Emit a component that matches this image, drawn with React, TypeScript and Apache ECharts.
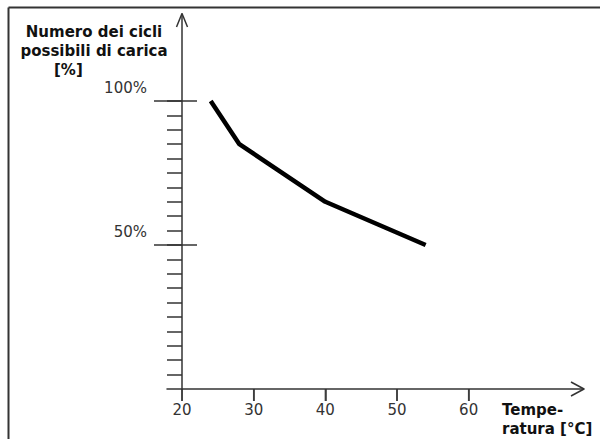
import React, { useEffect, useRef } from "react";
import * as echarts from "echarts";

// Data
const temperature = [24, 28, 40, 54];
const cycles = [100, 85, 65, 50];

// Axis ticks / labels
const xTickValues = [20, 30, 40, 50, 60];
const yMajorTicks = [50, 100];
const yMinorTicks = [5, 10, 15, 20, 25, 30, 35, 40, 45, 50, 55, 60, 65, 70, 75, 80, 85, 90, 95, 100];
const yLabelValues = [50, 100];

// Texts
const yTitleLines = ["Numero dei cicli", "possibili di carica"];
const yUnit = "[%]";
const xTitleLines = ["Tempe-", "ratura [°C]"];

const FONT = "DejaVu Sans, Verdana, sans-serif";
const AXIS_COLOR = "#333";

const ls = () => ({ color: AXIS_COLOR, width: 1.5 });

const seg = (x1: number, y1: number, x2: number, y2: number, w = 1.5) => ({
  type: "line",
  shape: { x1, y1, x2, y2 },
  style: { stroke: AXIS_COLOR, lineWidth: w },
  silent: true,
});

export default function App() {
  const ref = useRef<HTMLDivElement>(null);

  useEffect(() => {
    if (!ref.current) return;
    const chart = echarts.init(ref.current, undefined, { renderer: "svg" });

    const yCommon = () => ({
      type: "value" as const,
      position: "left" as const,
      min: 0,
      max: 130.2,
      offset: -15,
      splitLine: { show: false },
    });

    chart.setOption({
      animation: false,
      grid: { left: 167, right: 16, top: 14, bottom: 50, containLabel: false },
      xAxis: {
        type: "value",
        min: 17.9,
        max: 76.1,
        axisLine: { show: true, onZero: false, lineStyle: ls() },
        axisTick: { show: true, customValues: xTickValues, length: 12, lineStyle: ls() },
        axisLabel: {
          show: true,
          customValues: xTickValues,
          margin: 13,
          fontSize: 15,
          fontFamily: FONT,
          color: AXIS_COLOR,
        },
        splitLine: { show: false },
      },
      yAxis: [
        {
          ...yCommon(),
          axisLine: { show: true, onZero: false, lineStyle: ls() },
          axisTick: { show: true, customValues: yMinorTicks, length: 15, lineStyle: ls() },
          axisLabel: {
            show: true,
            customValues: yLabelValues,
            formatter: "{value}%",
            margin: 35,
            fontSize: 15,
            fontFamily: FONT,
            color: AXIS_COLOR,
            verticalAlign: "bottom",
            padding: [0, 0, 5, 0],
          },
        },
        {
          ...yCommon(),
          axisLine: { show: false, onZero: false },
          axisTick: { show: true, customValues: yMajorTicks, length: 28, lineStyle: ls() },
          axisLabel: { show: false },
        },
        {
          ...yCommon(),
          axisLine: { show: false, onZero: false },
          axisTick: { show: true, inside: true, customValues: yMajorTicks, length: 15, lineStyle: ls() },
          axisLabel: { show: false },
        },
      ],
      series: [
        {
          type: "line",
          yAxisIndex: 0,
          data: temperature.map((t, i) => [t, cycles[i]]),
          symbol: "none",
          lineStyle: { color: "#000", width: 4.5 },
        },
        {
          // x-axis tick marks below the axis line (same place as the axis ticks)
          type: "scatter",
          yAxisIndex: 0,
          data: xTickValues.map((v) => [v, 0]),
          symbol: "rect",
          symbolSize: [1.5, 12],
          symbolOffset: [0, 6],
          itemStyle: { color: AXIS_COLOR },
          clip: false,
        },
      ],
      graphic: [
        // frame (top and left edges)
        seg(8.5, 7.5, 8.5, 439, 2),
        seg(8.5, 7.5, 600, 7.5, 2),
        // y-axis arrow head
        seg(176.5, 27, 182, 13.5),
        seg(182, 13.5, 187.5, 27),
        // x-axis arrow head
        seg(571, 382, 584, 389),
        seg(584, 389, 571, 396),
        {
          type: "text",
          x: 94,
          y: 22,
          style: {
            text: yTitleLines.join("\n"),
            font: `bold 15px ${FONT}`,
            fill: "#111",
            textAlign: "center",
            textVerticalAlign: "top",
            lineHeight: 19,
          },
        },
        {
          type: "text",
          x: 54,
          y: 60,
          style: {
            text: yUnit,
            font: `bold 15px ${FONT}`,
            fill: "#111",
            textAlign: "left",
            textVerticalAlign: "top",
            lineHeight: 19,
          },
        },
        {
          type: "text",
          x: 502,
          y: 401,
          style: {
            text: xTitleLines.join("\n"),
            font: `bold 15px ${FONT}`,
            fill: "#111",
            textAlign: "left",
            textVerticalAlign: "top",
            lineHeight: 18.5,
          },
        },
      ],
    });

    return () => chart.dispose();
  }, []);

  return (
    <div
      ref={ref}
      style={{ position: "fixed", left: 0, top: 0, width: 600, height: 439, background: "#fff" }}
    />
  );
}
